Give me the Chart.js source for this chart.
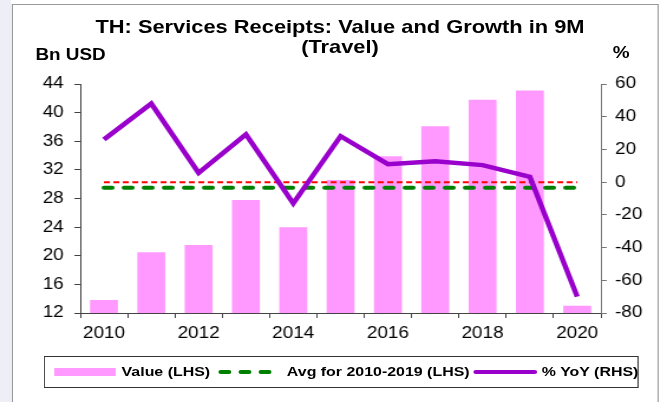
<!DOCTYPE html>
<html>
<head>
<meta charset="utf-8">
<script src="https://cdn.jsdelivr.net/npm/chart.js@4"></script>
<style>
    html, body { margin: 0; padding: 0; background: #fff; }
    #page { position: relative; width: 667px; height: 402px; overflow: hidden; }
    #strip { position: absolute; left: 0; top: 0; width: 11px; height: 402px; background: #eeeef7; }
    /* 元の画像は横に引き伸ばされているので、同じように横だけ拡大する */
    #inner { position: absolute; left: 0; top: 0; width: 565px; height: 402px;
             transform-origin: 0 0; transform: scaleX(1.1805);
             font-family: Arial, "Liberation Sans", sans-serif; color: #000; }
    #frame { position: absolute; left: 10px; top: 4px; width: 548px; height: 420px;
             border: 1px solid #999; box-sizing: border-box; }
    #title { position: absolute; left: 0; width: 576px; top: 17px; text-align: center;
             font-weight: bold; font-size: 18.5px; line-height: 20px; }
    .unit { position: absolute; font-weight: bold; font-size: 16px; line-height: 18px; }
    #chart { position: absolute; left: 0; top: 0; }
    #legend { position: absolute; left: 37px; top: 356px; width: 504px; height: 32px;
              border: 1px solid #333; box-sizing: border-box; }
    .lg { position: absolute; top: 0; height: 30px; }
    .lg-text { position: absolute; top: 7px; font-weight: bold; font-size: 13.5px; line-height: 16px; white-space: nowrap; }
</style>
</head>
<body>
<div id="page">
    <div id="strip"></div>
    <div id="inner">
        <div id="frame"></div>
        <div id="title">TH: Services Receipts: Value and Growth in 9M<br>(Travel)</div>
        <div class="unit" style="left:30px; top:46px;">Bn USD</div>
        <div class="unit" style="left:519px; top:44px;">%</div>
        <canvas id="chart" width="565" height="402"></canvas>
        <div id="legend">
            <div class="lg" style="left:8px; top:11px; width:52px; height:8px; background:#ff99ff;"></div>
            <div class="lg-text" style="left:65px;">Value (LHS)</div>
            <svg class="lg" style="left:146px; top:10px;" width="58" height="10">
                <line x1="3" y1="5" x2="54" y2="5" stroke="#008000" stroke-width="4"
                      stroke-linecap="round" stroke-dasharray="7 10"></line>
            </svg>
            <div class="lg-text" style="left:205px;">Avg for 2010-2019 (LHS)</div>
            <svg class="lg" style="left:362px; top:10px;" width="58" height="10">
                <line x1="3" y1="5" x2="53" y2="5" stroke="#9900cc" stroke-width="4"
                      stroke-linecap="round"></line>
            </svg>
            <div class="lg-text" style="left:421px;">% YoY (RHS)</div>
        </div>
    </div>
</div>
<script>
// データ
const years = ['2010', '2011', '2012', '2013', '2014', '2015', '2016', '2017', '2018', '2019', '2020'];
const valueBn = [13.8, 20.5, 21.5, 27.8, 24.0, 30.6, 33.9, 38.1, 41.8, 43.1, 13.0];
const avg2010to2019 = [29.5, 29.5, 29.5, 29.5, 29.5, 29.5, 29.5, 29.5, 29.5, 29.5, 29.5];
const yoyPct = [26.1, 48.0, 5.7, 29.2, -13.0, 28.1, 11.0, 12.8, 10.4, 3.2, -70.0];
const zeroRhs = [0, 0, 0, 0, 0, 0, 0, 0, 0, 0, 0];

// 軸の共通設定
const axisColor = '#444';
const tickFont = { family: 'Arial, "Liberation Sans", sans-serif', size: 16 };

new Chart(document.getElementById('chart'), {
    type: 'bar',
    data: {
        labels: years,
        datasets: [
            {
                type: 'line',
                label: '% YoY (RHS)',
                data: yoyPct,
                yAxisID: 'y1',
                borderColor: '#9900cc',
                borderWidth: 4.5,
                pointRadius: 0,
                order: 0
            },
            {
                type: 'line',
                label: 'Avg for 2010-2019 (LHS)',
                data: avg2010to2019,
                yAxisID: 'y',
                borderColor: '#008000',
                borderWidth: 4,
                borderDash: [7, 10],
                borderCapStyle: 'round',
                pointRadius: 0,
                order: 1
            },
            {
                type: 'line',
                label: 'zero',
                data: zeroRhs,
                yAxisID: 'y1',
                borderColor: '#ff0000',
                borderWidth: 2,
                borderDash: [5, 3],
                pointRadius: 0,
                order: 2
            },
            {
                type: 'bar',
                label: 'Value (LHS)',
                data: valueBn,
                yAxisID: 'y',
                backgroundColor: '#ff99ff',
                barPercentage: 0.59,
                categoryPercentage: 1,
                order: 3
            }
        ]
    },
    options: {
        responsive: false,
        animation: false,
        layout: { padding: { top: 84, left: 0, right: 0, bottom: 0 } },
        plugins: {
            legend: { display: false },
            title: { display: false },
            tooltip: { enabled: false }
        },
        scales: {
            x: {
                grid: { display: true, drawOnChartArea: false, drawTicks: true, tickLength: 5, color: axisColor, offset: true },
                border: { display: true, color: axisColor },
                ticks: {
                    font: tickFont,
                    color: '#000',
                    maxRotation: 0,
                    autoSkip: false,
                    padding: 6,
                    callback: (v, i) => (i % 2 === 0 ? years[i] : '')
                },
                afterFit: s => { s.height = 89; }
            },
            y: {
                position: 'left',
                min: 12,
                max: 44,
                grid: { drawOnChartArea: false, tickLength: 5, color: axisColor },
                border: { display: true, color: axisColor },
                ticks: { stepSize: 4, font: tickFont, color: '#000', padding: 9 },
                afterFit: s => { s.width = 68; }
            },
            y1: {
                position: 'right',
                min: -80,
                max: 60,
                grid: { drawOnChartArea: false, tickLength: 5, color: '#777' },
                border: { display: true, color: '#777' },
                ticks: { stepSize: 20, font: tickFont, color: '#000', padding: 7 },
                afterFit: s => { s.width = 56; }
            }
        }
    }
});
</script>
</body>
</html>
